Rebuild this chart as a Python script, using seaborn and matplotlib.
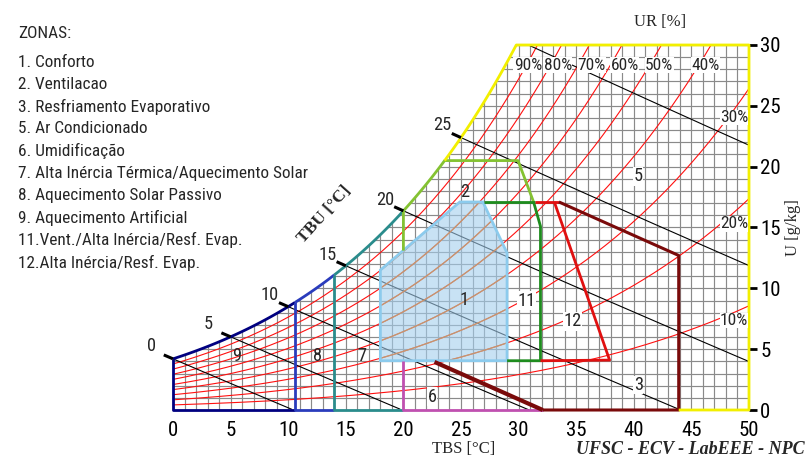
import numpy as np
import matplotlib
matplotlib.use("Agg")
import matplotlib.pyplot as plt
from matplotlib import font_manager
import seaborn as sns
from matplotlib.patches import Polygon

# pressao atmosferica da carta (kPa), ajustada ao desenho
P_ATM = 91.0

ur_niveis = [10, 20, 30, 40, 50, 60, 70, 80, 90]
tbu_niveis = [0, 5, 10, 15, 20, 25, 30]

tbu_rotulos = ["0", "5", "10", "15", "20", "25"]
tbu_rotulo_pos = [(-1.85, 5.3), (3.1, 7.1), (8.4, 9.45), (13.4, 12.75), (18.4, 17.3), (23.4, 23.4)]

ur_rotulos = ["90%", "80%", "70%", "60%", "50%", "40%", "30%", "20%", "10%"]
ur_rotulo_pos = [(30.8, 28.35), (33.4, 28.35), (36.3, 28.35), (39.2, 28.35), (42.2, 28.35),
                 (46.2, 28.35), (48.7, 24.05), (48.7, 15.3), (48.7, 7.35)]

zonas = ["1. Conforto", "2. Ventilacao", "3. Resfriamento Evaporativo", "5. Ar Condicionado",
         "6. Umidificação", "7. Alta Inércia Térmica/Aquecimento Solar", "8. Aquecimento Solar Passivo",
         "9. Aquecimento Artificial", "11.Vent./Alta Inércia/Resf. Evap.", "12.Alta Inércia/Resf. Evap."]

zona_num = ["1", "2", "3", "5", "6", "7", "8", "9", "11", "12"]
zona_num_pos = [(25.3, 9.05), (25.3, 17.9), (40.4, 2.05), (40.4, 19.2), (22.5, 1.1),
                (16.4, 4.4), (12.5, 4.4), (5.5, 4.4), (30.7, 9.0), (34.7, 7.3)]

tbs_ticks = [0, 5, 10, 15, 20, 25, 30, 35, 40, 45, 50]
u_ticks = [0, 5, 10, 15, 20, 25, 30]

t_zona9 = 10.6
t_zona8 = 14.0
t_zona7 = 20.0
u_vent_max = 20.5
conforto = [(18.0, 11.5), (24.9, 17.1), (26.9, 17.1), (29.0, 12.9), (29.0, 4.05), (18.0, 4.05)]
vent_topo = [(29.95, 20.5), (31.3, 17.1)]
zona11 = [[(27.0, 17.1), (31.4, 17.1)], [(31.3, 17.1), (31.9, 15.1), (31.9, 4.05), (29.0, 4.05)]]
zona12 = [[(31.4, 17.1), (33.5, 17.1)], [(33.1, 17.1), (37.9, 4.1), (31.9, 4.05)]]
zona5 = [(33.5, 17.1), (43.9, 12.7), (43.9, 0.0), (32.1, 0.0)]
zona3 = [(32.1, 0.0), (22.7, 3.95)]
zona6 = [(20.0, 4.05), (20.0, 0.0), (32.1, 0.0)]


def pws(t):
    return 0.61094 * np.exp(17.625 * t / (t + 243.04))


def u_ur(t, ur):
    pv = ur / 100.0 * pws(t)
    return 622.0 * pv / (P_ATM - pv)


def t_sat(u):
    pv = u * P_ATM / (622.0 + u)
    a = np.log(pv / 0.61094)
    return 243.04 * a / (17.625 - a)


def u_tbu(t, tbu):
    ws = u_ur(tbu, 100) / 1000.0
    w = ((2501 - 2.326 * tbu) * ws - 1.006 * (t - tbu)) / (2501 + 1.86 * t - 4.186 * tbu)
    return w * 1000.0


def sat(t0, t1):
    t = np.linspace(t0, t1, 80)
    return list(zip(t, u_ur(t, 100)))


# fonte estreita, se houver alguma instalada
nomes = {f.name for f in font_manager.fontManager.ttflist}
estreita = [n for n in ["Liberation Sans Narrow", "Roboto Condensed", "DejaVu Sans Condensed",
                        "Open Sans Condensed"] if n in nomes]
fonte = (estreita[:1] or ["Liberation Sans"]) + ["DejaVu Sans"]
fator = 1.0 if estreita else 0.93

sns.set_theme(style="white")
plt.rcParams["font.family"] = fonte

fig = plt.figure(figsize=(8.1, 4.61), dpi=100)
ax = fig.add_axes([173 / 810, 51 / 461, 576 / 810, 365 / 461])
ax.set_xlim(0, 50)
ax.set_ylim(0, 30)
for s in ax.spines.values():
    s.set_visible(False)

# grade
for t in range(0, 51):
    ax.plot([t, t], [0, 30], color="#8a8a8a", lw=0.85, zorder=1)
for u in range(0, 31):
    ax.plot([0, 50], [u, u], color="#8a8a8a", lw=0.85, zorder=1)

t30 = t_sat(30.0)
acima = sat(0, t30) + [(t30, 31), (-1, 31), (-1, u_ur(0, 100))]
ax.add_patch(Polygon(acima, closed=True, facecolor="white", edgecolor="none", zorder=2))

# curvas de umidade relativa
tt = np.linspace(0, 50, 501)
for ur in ur_niveis:
    uu = u_ur(tt, ur)
    m = uu <= 31
    sns.lineplot(x=tt[m], y=uu[m], sort=False, estimator=None, color="#ff1010", lw=0.8, ax=ax, zorder=4)

# linhas de bulbo umido
for tbu in tbu_niveis:
    t = np.linspace(tbu, 50, 200)
    uu = u_tbu(t, tbu)
    m = uu >= 0
    sns.lineplot(x=t[m], y=uu[m], sort=False, estimator=None, color="black", lw=0.8, ax=ax, zorder=4)
    if tbu <= 25:
        tx = [tbu - 0.8, tbu]
        ax.plot(tx, u_tbu(np.array(tx), tbu), color="black", lw=2.2, zorder=7,
                clip_on=False, solid_capstyle="butt")

# zona de conforto
zc = Polygon(conforto, closed=True, facecolor="#a4cfee", alpha=0.6, edgecolor="none", zorder=5)
ax.add_patch(zc)
for ur in ur_niveis:
    ln, = ax.plot(tt, u_ur(tt, ur), color="#c8946a", lw=0.9, zorder=5.5)
    ln.set_clip_path(zc)
ax.add_patch(Polygon(conforto, closed=True, facecolor="none", edgecolor="#8ccbed", lw=2, zorder=6))


def linha(pts, cor, lw=2.0):
    pts = np.array(pts)
    ax.plot(pts[:, 0], pts[:, 1], color=cor, lw=lw, zorder=6, clip_on=False, solid_capstyle="butt")


linha([(0, u_ur(0, 100)), (0, 0), (t_zona9, 0)], "#000080")
linha(sat(0, t_zona9), "#000080")
linha([(t_zona9, u_ur(t_zona9, 100)), (t_zona9, 0), (t_zona8, 0)], "#2a3cbc")
linha(sat(t_zona9, t_zona8), "#2a3cbc")
linha([(t_zona8, u_ur(t_zona8, 100)), (t_zona8, 0), (t_zona7, 0)], "#2a8c8c")
linha(sat(t_zona8, t_zona7), "#2a8c8c")
tv = t_sat(u_vent_max)
linha([(t_zona7, 13.1), (t_zona7, u_ur(t_zona7, 100))] + sat(t_zona7, tv)
      + [(tv, u_vent_max)] + vent_topo, "#84c232")
for seg in zona11:
    linha(seg, "#1e8c1e")
for seg in zona12:
    linha(seg, "#e01010")
linha(zona6, "#c050b0")
linha(zona5, "#7a0a0a", 2.2)
linha(zona3, "#7a0a0a", 3.0)
linha(sat(tv, t30) + [(t30, 30), (50, 30), (50, 0), (43.9, 0)], "#f2ef00")

# rotulos
fs = 13.2 * fator
bb = dict(facecolor="white", edgecolor="none", pad=0.3)
for txt, (x, y) in zip(tbu_rotulos, tbu_rotulo_pos):
    ax.text(x, y, txt, fontsize=fs, ha="center", va="center", zorder=8, clip_on=False)
for txt, (x, y) in zip(ur_rotulos, ur_rotulo_pos):
    ax.text(x, y, txt, fontsize=12.5 * fator, ha="center", va="center", zorder=8, bbox=bb)
for txt, (x, y) in zip(zona_num, zona_num_pos):
    b = None if txt in ("1", "2", "7", "8", "9") else bb
    ax.text(x, y, txt, fontsize=fs, ha="center", va="center", zorder=8, bbox=b)

ax.set_xticks(tbs_ticks)
ax.set_yticks(u_ticks)
ax.yaxis.tick_right()
ax.tick_params(axis="both", direction="out", length=6, width=2, color="black",
               labelsize=15 * fator, labelcolor="black", pad=2)

fs_leg = 12.4 if estreita else 11.0
fig.text(18 / 810, 1 - 34 / 461, "ZONAS:", fontsize=fs_leg, va="center")
for i, z in enumerate(zonas):
    fig.text(18 / 810, 1 - (62 + 22.3 * i) / 461, z, fontsize=fs_leg, va="center")

serif = ["Liberation Serif", "DejaVu Serif"]
fig.text(660 / 810, 1 - 22 / 461, "UR [%]", family=serif, fontsize=12, ha="center", va="center")
fig.text(464 / 810, 1 - 449 / 461, "TBS [°C]", family=serif, fontsize=12, ha="center", va="center")
fig.text(793 / 810, 1 - 228 / 461, "U [g/kg]", family=serif, fontsize=12, ha="center", va="center",
         rotation=90)
fig.text(324 / 810, 1 - 214 / 461, "TBU [°C]", family=serif, fontsize=12.5, ha="center", va="center",
         rotation=48, fontweight="bold")
fig.text(805 / 810, 1 - 449 / 461, "UFSC - ECV - LabEEE - NPC", family=serif, fontsize=13,
         ha="right", va="center", fontweight="bold", style="italic")

fig.savefig("out.png", dpi=100, facecolor="white")
